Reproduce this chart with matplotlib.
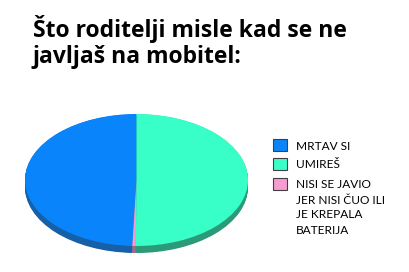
import numpy as np
import matplotlib.pyplot as plt

title = "Što roditelji misle kad se ne\njavljaš na mobitel:"
labels = ["MRTAV SI", "UMIREŠ", "NISI SE JAVIO\nJER NISI ČUO ILI\nJE KREPALA\nBATERIJA"]
# order around the pie (counterclockwise from the top): blue, pink, teal
pie_values = [49.4, 0.5, 50.1]
pie_colors = ["#0a84fa", "#f59cd0", "#38ffc8"]
side_colors = ["#1660a8", "#a06a88", "#2a9a78"]
legend_colors = ["#0a84fa", "#38ffc8", "#f59cd0"]

W, H = 410, 272
fig = plt.figure(figsize=(W / 100, H / 100), dpi=100)
fig.patch.set_facecolor("white")

fig.text(33 / W, 1 - 63 / H, title, fontsize=16.5, fontweight="bold",
         family=["Open Sans", "DejaVu Sans"], va="baseline", ha="left",
         linespacing=1.12, color="black")

# pie axes: pixel box of the squashed disc
x0, x1, y0, y1 = 25, 248, 114, 253
ax = fig.add_axes([x0 / W, 1 - y1 / H, (x1 - x0) / W, (y1 - y0) / H])
thick = 7 / 66.0
for off in np.linspace(thick, 0.005, 12):
    ax.pie(pie_values, colors=side_colors, startangle=90, counterclock=True,
           center=(0, -off), radius=1, wedgeprops=dict(linewidth=0))
ax.pie(pie_values, colors=pie_colors, startangle=90, counterclock=True,
       center=(0, 0), radius=1, wedgeprops=dict(linewidth=0))
ax.set_aspect("auto")
ax.set_xlim(-1, 1)
ax.set_ylim(-1 - thick, 1)
ax.axis("off")

# legend
box_y = [139, 158, 178]
text_y = [149.5, 168, 188.5]
for c, lab, by, ty in zip(legend_colors, labels, box_y, text_y):
    fig.patches.append(plt.Rectangle((273 / W, 1 - (by + 12) / H), 14 / W, 12 / H,
                                     transform=fig.transFigure, facecolor=c,
                                     edgecolor="#404040", linewidth=0.8))
    for i, line in enumerate(lab.split("\n")):
        fig.text(296 / W, 1 - (ty + 15 * i) / H, line, fontsize=8.6,
                 family=["Lato", "DejaVu Sans"], va="baseline", ha="left",
                 color="black")

fig.savefig("out.png", dpi=100, facecolor="white")
